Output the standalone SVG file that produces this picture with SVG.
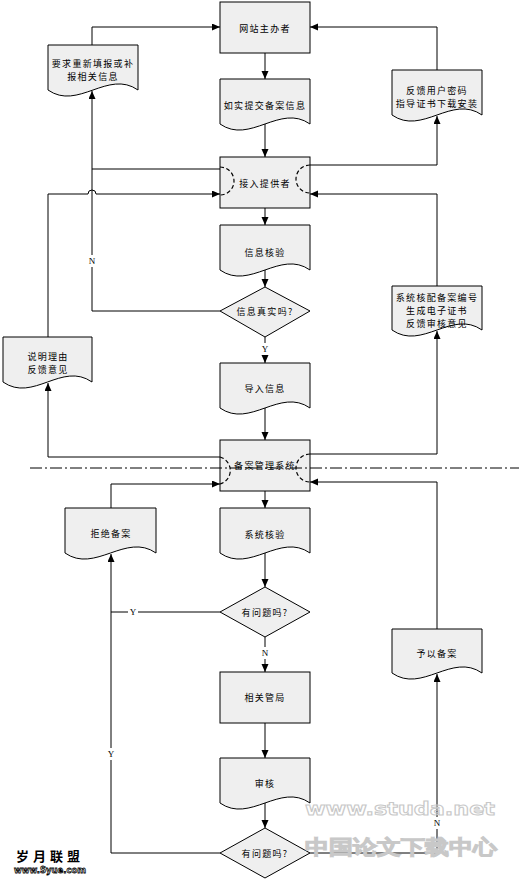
<svg xmlns="http://www.w3.org/2000/svg" width="519" height="881" viewBox="0 0 519 881">
<style>
.box{fill:#efefef;stroke:#000;stroke-width:1}
.t{font-family:"Noto Sans CJK SC","Noto Sans",sans-serif;font-size:9px;letter-spacing:1.3px;text-anchor:middle;dominant-baseline:central;fill:#000}
.lbl{font-family:"Liberation Serif",serif;font-size:9px;text-anchor:middle;dominant-baseline:central;fill:#000}
.c{fill:none;stroke:#000;stroke-width:1}
.arc{fill:none;stroke:#000;stroke-width:1.2;stroke-dasharray:4,2.5}
.wm{font-family:"DejaVu Sans",sans-serif;font-weight:bold;fill:none;stroke:#c8c8c8;stroke-width:1}
</style>
<defs>
<marker id="ah" markerUnits="userSpaceOnUse" markerWidth="9" markerHeight="8" refX="8" refY="3.5" orient="auto">
<path d="M0,0 L8,3.5 L0,7 z" fill="#000"/>
</marker>
</defs>

<g id="n1"><rect class="box" x="220" y="2" width="90" height="51"/><text class="t" x="265" y="28">网站主办者</text></g>
<g id="n2"><path class="box" d="M220,79 H310 V124 C280,103 250,145 220,124 Z"/><text class="t" x="265" y="105">如实提交备案信息</text></g>
<g id="n3"><rect class="box" x="220" y="157" width="90" height="51"/><text class="t" x="265" y="183">接入提供者</text>
<path class="arc" d="M220,167 A14,14 0 0 1 220,195"/><path class="arc" d="M310,165 A14,14 0 0 0 310,193"/></g>
<g id="n4"><path class="box" d="M220,225 H310 V270 C280,249 250,291 220,270 Z"/><text class="t" x="265" y="252">信息核验</text></g>
<g id="n5"><polygon class="box" points="220,311 265,287 310,311 265,337"/><text class="t" x="265" y="311">信息真实吗?</text></g>
<g id="n6"><path class="box" d="M220,363 H310 V408 C280,387 250,429 220,408 Z"/><text class="t" x="265" y="388">导入信息</text></g>
<g id="n7"><rect class="box" x="220" y="440" width="90" height="51"/><text class="t" x="265" y="465">备案管理系统</text>
<path class="arc" d="M220,457 A14,14 0 0 1 220,484"/><path class="arc" d="M310,454 A14,14 0 0 0 310,482"/></g>
<g id="n8"><path class="box" d="M220,508 H310 V553 C280,532 250,574 220,553 Z"/><text class="t" x="265" y="534">系统核验</text></g>
<g id="n9"><polygon class="box" points="220,612 265,587 310,612 265,637"/><text class="t" x="265" y="612">有问题吗?</text></g>
<g id="n10"><rect class="box" x="220" y="672" width="90" height="51"/><text class="t" x="265" y="697">相关管局</text></g>
<g id="n11"><path class="box" d="M220,758 H310 V803 C280,782 250,824 220,803 Z"/><text class="t" x="265" y="783">审核</text></g>
<g id="n12"><polygon class="box" points="220,853 265,828 310,853 265,878"/><text class="t" x="265" y="853">有问题吗?</text></g>

<g id="n13"><path class="box" d="M48,45 H138 V90 C108,69 78,111 48,90 Z"/><text class="t" x="93" y="63">要求重新填报或补</text><text class="t" x="93" y="76">报相关信息</text></g>
<g id="n14"><path class="box" d="M392,70 H482 V115 C452,94 422,136 392,115 Z"/><text class="t" x="437" y="90">反馈用户密码</text><text class="t" x="437" y="103">指导证书下载安装</text></g>
<g id="n15"><path class="box" d="M3,337 H92 V382 C62,361 33,403 3,382 Z"/><text class="t" x="48" y="356">说明理由</text><text class="t" x="48" y="369">反馈意见</text></g>
<g id="n16"><path class="box" d="M392,286 H482 V330 C452,309 422,351 392,330 Z"/><text class="t" x="437" y="297">系统核配备案编号</text><text class="t" x="437" y="310">生成电子证书</text><text class="t" x="437" y="323">反馈审核意见</text></g>
<g id="n17"><path class="box" d="M65,508 H156 V553 C126,532 95,574 65,553 Z"/><text class="t" x="111" y="533">拒绝备案</text></g>
<g id="n18"><path class="box" d="M392,629 H482 V673 C452,652 422,694 392,673 Z"/><text class="t" x="437" y="653">予以备案</text></g>

<g id="connectors">
<path class="c" marker-end="url(#ah)" d="M265,53 V79"/>
<path class="c" marker-end="url(#ah)" d="M265,124 V157"/>
<path class="c" marker-end="url(#ah)" d="M265,208 V225"/>
<path class="c" marker-end="url(#ah)" d="M265,270 V287"/>
<path class="c" marker-end="url(#ah)" d="M265,337 V363"/>
<path class="c" marker-end="url(#ah)" d="M265,408 V440"/>
<path class="c" marker-end="url(#ah)" d="M265,491 V508"/>
<path class="c" marker-end="url(#ah)" d="M265,553 V587"/>
<path class="c" marker-end="url(#ah)" d="M265,637 V672"/>
<path class="c" marker-end="url(#ah)" d="M265,723 V758"/>
<path class="c" marker-end="url(#ah)" d="M265,803 V828"/>
<path class="c" marker-end="url(#ah)" d="M220,311 H92 V91"/>
<path class="c" d="M220,169 H92"/>
<path class="c" marker-end="url(#ah)" d="M92,45 V27 H220"/>
<path class="c" marker-end="url(#ah)" d="M220,457 H48 V383"/>
<path class="c" marker-end="url(#ah)" d="M48,337 V194 H88 A4,4 0 0 1 96,194 H220"/>
<path class="c" marker-end="url(#ah)" d="M310,165 H437 V116"/>
<path class="c" marker-end="url(#ah)" d="M437,70 V27 H310"/>
<path class="c" marker-end="url(#ah)" d="M310,454 H437 V331"/>
<path class="c" marker-end="url(#ah)" d="M437,286 V194 H310"/>
<path class="c" marker-end="url(#ah)" d="M111,508 V484 H220"/>
<path class="c" d="M220,612 H111"/>
<path class="c" marker-end="url(#ah)" d="M220,853 H111 V554"/>
<path class="c" marker-end="url(#ah)" d="M437,629 V482 H310"/>
<path class="c" marker-end="url(#ah)" d="M310,853 H437 V674"/>
<rect x="87" y="255" width="10" height="12" fill="#fff"/><text class="lbl" x="92" y="261">N</text>
<rect x="260" y="343" width="10" height="12" fill="#fff"/><text class="lbl" x="265" y="349">Y</text>
<rect x="128" y="606" width="10" height="12" fill="#fff"/><text class="lbl" x="133" y="612">Y</text>
<rect x="260" y="647" width="10" height="12" fill="#fff"/><text class="lbl" x="265" y="653">N</text>
<rect x="106" y="748" width="10" height="12" fill="#fff"/><text class="lbl" x="111" y="754">Y</text>
<rect x="432" y="817" width="10" height="12" fill="#fff"/><text class="lbl" x="437" y="823">N</text>
</g>

<path d="M30,468 H519" fill="none" stroke="#000" stroke-width="1" stroke-dasharray="12,3,2,3"/>

<g id="watermarks">
<text x="50" y="855" font-family="Noto Sans CJK SC,sans-serif" font-weight="bold" font-size="13" letter-spacing="4" text-anchor="middle" dominant-baseline="central" fill="#000">岁月联盟</text>
<text x="50" y="870" font-family="DejaVu Sans,sans-serif" font-weight="bold" font-size="9" text-anchor="middle" dominant-baseline="central" fill="#fff" stroke="#000" stroke-width="0.8" textLength="72" lengthAdjust="spacingAndGlyphs">www.Syue.com</text>
<text class="wm" x="305" y="808" font-size="18" dominant-baseline="central" textLength="190" lengthAdjust="spacingAndGlyphs">www.studa.net</text>
<text class="wm" x="305" y="847" font-family="Noto Sans CJK SC,sans-serif" font-size="20" dominant-baseline="central" textLength="192" lengthAdjust="spacingAndGlyphs">中国论文下载中心</text>
</g>
</svg>
